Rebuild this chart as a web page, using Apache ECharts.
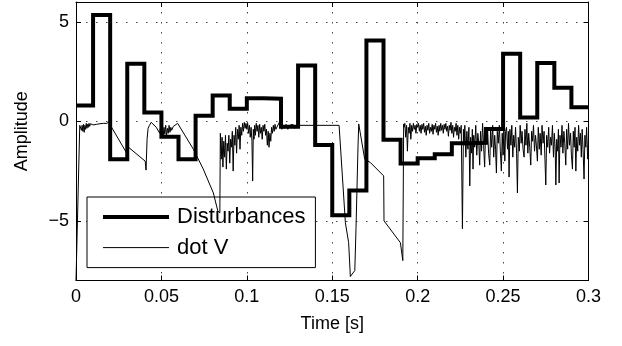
<!DOCTYPE html>
<html>
<head>
<meta charset="utf-8">
<script src="https://cdn.jsdelivr.net/npm/echarts@6/dist/echarts.min.js"></script>
<style>html,body{margin:0;padding:0;background:#fff}#c{width:622px;height:346px}</style>
</head>
<body>
<div id="c"></div>
<script>
// ---- data ----
const xTicks = [0, 0.05, 0.1, 0.15, 0.2, 0.25, 0.3];
const xTickLabels = ['0', '0.05', '0.1', '0.15', '0.2', '0.25', '0.3'];
const yTicks = [-5, 0, 5];
const yTickLabels = ['\u22125', '0', '5'];
const seriesNames = ['Disturbances', 'dot V'];

// Disturbances: piecewise constant, value holds from time t
const distT = [0, 0.01, 0.02, 0.03, 0.04, 0.05, 0.06, 0.07, 0.08, 0.09, 0.10, 0.11, 0.12, 0.13, 0.14, 0.15,
  0.16, 0.17, 0.18, 0.19, 0.20, 0.21, 0.22, 0.23, 0.24, 0.25, 0.26, 0.27, 0.28, 0.29, 0.30];
const distV = [0.8, 5.35, -1.9, 2.9, 0.45, -0.78, -1.9, 0.28, 1.3, 0.63, 1.16, 1.14, -0.27, 2.81, -1.19, -4.72,
  -3.48, 4.07, -0.92, -2.12, -1.85, -1.65, -1.1, -1.08, -0.39, 3.4, 0.2, 2.93, 1.69, 0.71, 0.71];

// dot V: [time, value]
const dotV = [
  [0, -8.0], [0.0005, -7.9], [0.0022, -0.2],
  [0.0028, -0.15], [0.0032, -0.45], [0.0036, -0.2], [0.0040, -0.5], [0.0044, -0.15], [0.0048, -0.55],
  [0.0052, -0.2], [0.0056, -0.4], [0.0060, -0.1], [0.0064, -0.35], [0.0068, -0.15], [0.0072, -0.3],
  [0.0076, -0.1], [0.0080, -0.25], [0.0085, -0.12], [0.009, -0.2], [0.0095, -0.1], [0.010, -0.18],
  [0.011, -0.12], [0.012, -0.15], [0.013, -0.1], [0.014, -0.12], [0.015, -0.08], [0.016, -0.1],
  [0.017, -0.06], [0.018, -0.1], [0.019, -0.08], [0.0195, -0.03], [0.0205, -0.25],
  [0.0297, -1.6], [0.0300, -1.25], [0.0405, -2.0], [0.0410, -2.45], [0.0416, -0.9], [0.0422, -0.35],
  [0.0430, -0.2], [0.0440, -0.05], [0.0450, 0.0], [0.047, -0.3], [0.049, -0.6], [0.0495, -0.3],
  [0.050, -0.7], [0.0505, -0.25], [0.051, -0.8], [0.0515, -0.3], [0.052, -0.65], [0.0525, -0.2],
  [0.053, -0.75], [0.0535, -0.35], [0.054, -0.6], [0.0545, -0.2], [0.055, -0.55], [0.0555, -0.3],
  [0.056, -0.45], [0.057, -0.25], [0.058, -0.15], [0.0595, -0.1],
  [0.0687, -1.4], [0.0745, -2.4], [0.0804, -3.6], [0.083, -4.5], [0.0842, -4.6], [0.0845, -0.6],
  [0.0850, -1.9], [0.0855, -0.8], [0.0860, -2.3], [0.0865, -1.0], [0.0870, -1.8], [0.0875, -0.7],
  [0.0880, -2.4], [0.0885, -1.1], [0.0890, -1.5], [0.0895, -0.7], [0.0900, -2.1], [0.0905, -0.9],
  [0.0910, -1.3], [0.0915, -0.5], [0.0920, -2.5], [0.0925, -0.7], [0.0930, -1.2], [0.0935, -0.3],
  [0.0940, -1.6], [0.0945, -0.4], [0.0950, -0.9], [0.0955, -0.2], [0.0960, -1.4], [0.0965, -0.3],
  [0.0970, -0.7], [0.0975, -0.1], [0.0980, -0.5], [0.0985, -0.05], [0.0990, -0.35], [0.0995, -0.1],
  [0.1000, -0.4], [0.1005, -0.1], [0.1010, -0.6], [0.1015, -0.2], [0.1020, -0.8], [0.1025, -0.3],
  [0.1030, -1.0], [0.1034, -3.0], [0.1038, -0.4], [0.1042, -0.9], [0.1046, -0.2], [0.1050, -0.7],
  [0.1055, -0.1], [0.1060, -0.5], [0.1065, -0.2], [0.1070, -0.8], [0.1075, -0.15], [0.1080, -0.6],
  [0.1085, -0.3], [0.1090, -0.9], [0.1095, -0.2], [0.1100, -0.5], [0.1105, -0.15], [0.1110, -0.7],
  [0.1115, -0.4], [0.1120, -1.2], [0.1125, -0.5], [0.1130, -1.3], [0.1135, -0.6], [0.1140, -1.0],
  [0.1145, -0.3], [0.1150, -0.6], [0.1155, -0.2], [0.1160, -0.5], [0.1165, -0.15], [0.1170, -0.4],
  [0.1175, -0.5], [0.1180, -0.3], [0.1190, -0.05], [0.1200, -0.15], [0.1205, -0.4],
  [0.121, -0.2], [0.122, -0.35], [0.123, -0.15], [0.124, -0.4], [0.125, -0.2], [0.126, -0.3],
  [0.127, -0.15], [0.128, -0.35], [0.129, -0.2], [0.130, -0.12], [0.1540, -0.2],
  [0.1548, -0.3], [0.1577, -5.1], [0.1596, -6.1], [0.1606, -7.8], [0.1616, -7.9], [0.1632, -7.5],
  [0.1639, -5.4], [0.1651, -1.2], [0.1655, -0.13],
  [0.1690, -1.9], [0.1723, -2.07], [0.1801, -2.74], [0.1803, -5.0], [0.1899, -6.1], [0.1913, -7.0],
  [0.1918, -0.13],
  [0.1920, -0.3], [0.1925, -0.1], [0.1930, -0.8], [0.1935, -0.2], [0.1940, -1.5], [0.1945, -0.3],
  [0.1950, -0.6], [0.1955, -0.1], [0.1960, -0.9], [0.1965, -0.2], [0.1970, -0.5], [0.1975, -0.1],
  [0.1980, -0.4], [0.1985, -0.2], [0.1990, -0.6], [0.1995, -0.15],
  [0.2000, -0.3], [0.2005, -0.1], [0.2010, -0.5], [0.2015, -0.2], [0.2020, -0.6], [0.2025, -0.15],
  [0.2030, -0.4], [0.2035, -0.1], [0.2040, -0.55], [0.2045, -0.25], [0.2050, -0.7], [0.2055, -0.2],
  [0.2060, -0.45], [0.2065, -0.1], [0.2070, -0.6], [0.2075, -0.3], [0.2080, -0.5], [0.2085, -0.15],
  [0.2090, -0.65], [0.2095, -0.2], [0.2100, -0.4], [0.2105, -0.1], [0.2110, -0.55], [0.2115, -0.25],
  [0.2120, -0.7], [0.2125, -0.2], [0.2130, -0.5], [0.2135, -0.1], [0.2140, -0.45], [0.2145, -0.2],
  [0.2150, -0.6], [0.2155, -0.15], [0.2160, -0.4], [0.2165, -0.1], [0.2170, -0.5], [0.2175, -0.25],
  [0.2180, -0.75], [0.2185, -0.2], [0.2190, -0.45], [0.2195, -0.05], [0.2200, -0.6], [0.2205, -0.2],
  [0.2210, -0.8], [0.2215, -0.3], [0.2220, -0.5], [0.2225, -0.1], [0.2230, -0.7], [0.2235, -0.2],
  [0.2240, -0.9], [0.2245, -0.3], [0.2250, -0.6], [0.2255, -0.2], [0.2262, -5.4], [0.2268, -0.4],
  [0.2272, -1.2], [0.2276, -0.2], [0.2282, -1.8], [0.2288, -0.5], [0.2294, -1.4], [0.2300, -0.3],
  [0.2305, -3.25], [0.2310, -0.8], [0.2316, -1.6], [0.2320, -0.4], [0.2324, -2.4], [0.2328, -0.7],
  [0.2334, -1.3], [0.2340, -0.2], [0.2346, -1.7], [0.2352, -0.6], [0.2358, -1.1], [0.2363, -2.2],
  [0.2368, -0.5], [0.2374, -1.5], [0.2380, -0.1], [0.2386, -1.2], [0.2392, -2.3], [0.2397, -0.6],
  [0.2403, -1.0], [0.2409, -0.3], [0.2415, -1.6], [0.2422, -2.2], [0.2427, -0.4], [0.2433, -1.3],
  [0.2439, -0.2], [0.2445, -1.8], [0.2451, -0.7], [0.2456, -1.4], [0.2461, -2.6], [0.2466, -0.5],
  [0.2472, -1.1], [0.2478, -0.2], [0.2484, -1.5], [0.2490, -2.5], [0.2495, -0.6], [0.2500, -1.7],
  [0.2505, -0.3], [0.2510, -2.0], [0.2515, -0.5],
  [0.2520, -0.3], [0.2526, -1.4], [0.2531, -0.5], [0.2535, -2.8], [0.2540, -0.4], [0.2546, -1.2],
  [0.2551, -0.2], [0.2557, -1.8], [0.2562, -0.7], [0.2568, -1.3], [0.2573, -0.3], [0.2579, -1.6],
  [0.2584, -3.6], [0.2589, -0.8], [0.2595, -1.5], [0.2600, -0.2], [0.2606, -1.1], [0.2611, -0.5],
  [0.2617, -1.4], [0.2623, -1.8], [0.2628, -0.4], [0.2634, -1.2], [0.2639, -0.1], [0.2645, -1.6],
  [0.2650, -0.6], [0.2656, -1.3], [0.2662, -2.2], [0.2667, -0.5], [0.2673, -1.0], [0.2678, -0.2],
  [0.2684, -1.5], [0.2690, -0.7], [0.2695, -1.2], [0.2701, -2.0], [0.2706, -0.3], [0.2712, -1.4],
  [0.2717, -0.6], [0.2723, -1.7], [0.2728, -0.2], [0.2734, -1.1], [0.2740, -0.5], [0.2745, -1.9],
  [0.2750, -3.2], [0.2755, -0.7], [0.2761, -1.3], [0.2767, -0.3], [0.2772, -1.6], [0.2778, -0.8],
  [0.2783, -1.2], [0.2789, -0.2], [0.2795, -1.8], [0.2800, -0.6], [0.2805, -1.4], [0.2809, -3.2],
  [0.2814, -0.9], [0.2819, -1.5], [0.2824, -0.4], [0.2828, -3.1], [0.2833, -0.7], [0.2839, -1.3],
  [0.2845, -0.2], [0.2850, -1.6], [0.2856, -0.5], [0.2861, -1.1], [0.2867, -2.2], [0.2872, -0.4],
  [0.2878, -1.4], [0.2883, -0.1], [0.2889, -1.2], [0.2895, -0.6], [0.2900, -1.7], [0.2906, -2.4],
  [0.2911, -0.5], [0.2916, -1.3], [0.2921, -0.3], [0.2926, -2.5], [0.2931, -0.8], [0.2937, -1.5],
  [0.2942, -0.2], [0.2948, -1.2], [0.2953, -0.6], [0.2958, -1.8], [0.2963, -0.4], [0.2968, -1.4],
  [0.2974, -2.9], [0.2979, -0.7], [0.2984, -1.3], [0.2989, -0.3], [0.2995, -1.9], [0.3000, -0.8]
];

// ---- chart ----
const FONT = 'Liberation Sans, Arial, Helvetica, sans-serif';
const chart = echarts.init(document.getElementById('c'), null, {renderer: 'canvas'});
const xFmt = v => { const i = xTicks.findIndex(t => Math.abs(t - v) < 1e-9); return i >= 0 ? xTickLabels[i] : ''; };
const yFmt = v => { const i = yTicks.findIndex(t => Math.abs(t - v) < 1e-9); return i >= 0 ? yTickLabels[i] : ''; };
const gridLine = {show: true, lineStyle: {color: '#444', width: 1, type: [1.5, 8.5]}};
const frameLine = {show: true, onZero: false, lineStyle: {color: '#000', width: 1}};
const tickIn = {show: true, inside: true, length: 5, lineStyle: {color: '#000', width: 1}};

chart.setOption({
  animation: false,
  backgroundColor: '#fff',
  color: ['#000', '#000'],
  grid: {left: 76, right: 33.5, top: 2, bottom: 65.5, containLabel: false},
  xAxis: [{
    type: 'value', min: 0, max: 0.3, interval: 0.05, position: 'bottom',
    axisLine: frameLine, axisTick: tickIn, splitLine: gridLine,
    axisLabel: {formatter: xFmt, color: '#000', fontSize: 18, fontFamily: FONT, margin: 8},
    name: 'Time [s]', nameLocation: 'middle', nameGap: 35,
    nameTextStyle: {color: '#000', fontSize: 18, fontFamily: FONT}
  }, {
    type: 'value', min: 0, max: 0.3, interval: 0.05, position: 'top',
    axisLine: frameLine, axisTick: tickIn, splitLine: {show: false}, axisLabel: {show: false}
  }],
  yAxis: [{
    type: 'value', min: -8, max: 6, position: 'left',
    axisLine: frameLine,
    axisTick: Object.assign({customValues: yTicks}, tickIn),
    splitLine: gridLine,
    axisLabel: {customValues: yTicks, formatter: yFmt, color: '#000', fontSize: 18, fontFamily: FONT, margin: 7},
    name: 'Amplitude', nameLocation: 'middle', nameGap: 45, nameRotate: 90,
    nameTextStyle: {color: '#000', fontSize: 18, fontFamily: FONT, padding: [0, 0, 0, 20]}
  }, {
    type: 'value', min: -8, max: 6, position: 'right',
    axisLine: frameLine,
    axisTick: Object.assign({customValues: yTicks}, tickIn),
    splitLine: {show: false}, axisLabel: {show: false}
  }],
  legend: {
    show: true, type: 'plain',
    orient: 'vertical', left: 87, top: 197,
    backgroundColor: '#fff', borderColor: '#000', borderWidth: 1, borderRadius: 0,
    padding: [9, 10, 9, 14], itemWidth: 66, itemHeight: 22, itemGap: 8.6,
    textStyle: {color: '#000', fontSize: 22, fontFamily: FONT, padding: [0, 0, 0, 3]},
    lineStyle: {width: 'inherit'},
    itemStyle: {opacity: 0, borderWidth: 0},
    data: seriesNames
  },
  series: [{
    name: seriesNames[0], type: 'line', step: 'end', symbol: 'none',
    xAxisIndex: 0, yAxisIndex: 0, z: 3,
    itemStyle: {color: '#000'},
    lineStyle: {color: '#000', width: 4, join: 'miter'},
    data: distT.map((t, i) => [t, distV[i]])
  }, {
    name: seriesNames[1], type: 'line', symbol: 'none',
    xAxisIndex: 0, yAxisIndex: 0, z: 4,
    itemStyle: {color: '#000'},
    lineStyle: {color: '#000', width: 1},
    data: dotV
  }]
});
</script>
</body>
</html>
